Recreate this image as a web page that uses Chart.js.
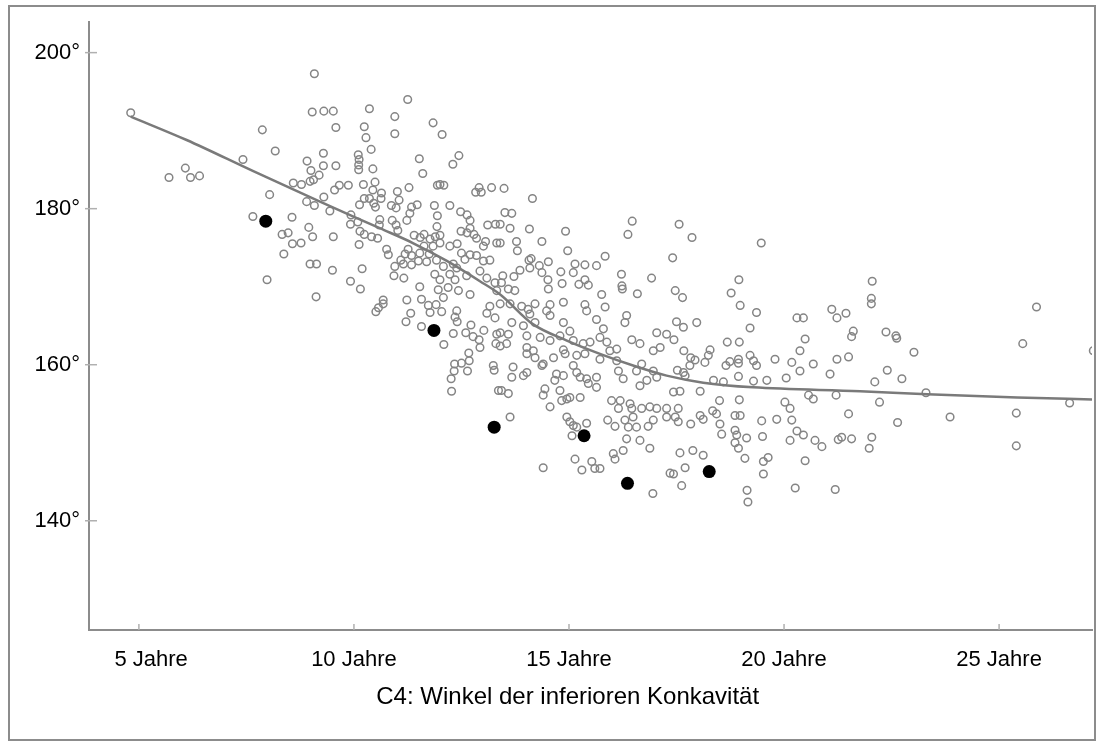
<!DOCTYPE html>
<html>
<head>
<meta charset="utf-8">
<script src="https://cdn.jsdelivr.net/npm/chart.js@4"></script>
<style>
  body { margin: 0; background: #fff; }
  .frame {
    position: absolute; left: 8px; top: 5px; width: 1088px; height: 736px;
    box-sizing: border-box; border: 2px solid #8c8c8c;
  }
  canvas { position: absolute; left: 0; top: 0; }
</style>
</head>
<body>
<div class="frame"></div>
<canvas id="angleChart" width="1102" height="742"></canvas>
<script>
// age (years) and C4 concavity angle (degrees) per subject
const openPoints = [
  [4.81,192.3],[9.08,197.3],[9.03,192.4],[9.30,192.5],[7.87,190.1],[8.17,187.4],[7.42,186.3],[6.08,185.2],[5.70,184.0],[6.20,184.0],
  [6.41,184.2],[9.29,187.1],[8.91,186.1],[9.00,184.9],[9.29,185.5],[9.19,184.3],[9.06,183.7],[8.98,183.5],[8.59,183.3],[8.78,183.1],
  [8.04,181.8],[8.90,180.9],[9.08,180.4],[9.30,181.5],[7.65,179.0],[8.56,178.9],[8.95,177.6],[9.04,176.4],[8.33,176.7],[8.47,176.9],
  [8.57,175.5],[8.77,175.6],[8.37,174.2],[8.98,172.9],[9.13,172.9],[7.98,170.9],[9.12,168.7],
  [11.25,194.0],[9.52,192.5],[10.36,192.8],[10.95,191.8],[11.84,191.0],[9.58,190.4],[10.24,190.5],[10.95,189.6],[12.05,189.5],[10.28,189.1],
  [10.40,187.6],[10.10,186.9],[10.12,186.3],[10.11,185.6],[10.11,185.0],[11.52,186.4],[12.44,186.8],[12.30,185.7],[9.58,185.5],[10.44,185.1],
  [11.60,184.5],[10.49,183.4],[10.22,183.1],[9.87,183.0],[9.66,183.0],[9.55,182.4],[11.94,183.0],[12.09,183.0],[12.00,183.1],[11.28,182.7],
  [11.01,182.2],[10.44,182.4],[10.64,182.0],[10.63,181.3],[12.91,182.7],[13.20,182.7],[12.83,182.1],[12.96,182.1],[10.24,181.3],[10.36,181.3],
  [10.46,180.7],[10.50,180.2],[10.13,180.5],[11.05,181.1],[10.87,180.4],[10.98,180.1],[11.34,180.2],[11.47,180.5],[11.30,179.4],[11.87,180.4],
  [12.23,180.4],[12.48,179.6],[12.63,179.2],[12.70,178.5],[9.44,179.7],[9.93,179.2],[9.92,178.0],[10.09,178.3],[10.89,178.5],[10.98,177.9],
  [11.02,177.2],[11.23,178.5],[10.60,178.6],[10.59,177.9],[11.94,179.1],[11.93,177.7],[13.11,177.9],[13.29,178.0],[9.52,176.4],[10.14,177.1],
  [10.24,176.7],[10.41,176.4],[10.55,176.2],[11.40,176.6],[11.54,176.3],[11.63,176.7],[11.77,176.1],[11.89,176.4],[12.00,176.6],[12.49,177.1],
  [12.63,176.9],[12.79,176.7],[12.85,176.2],[12.70,177.5],[13.06,175.8],[13.01,175.2],[13.32,175.6],[10.12,175.4],[10.76,174.8],[10.80,174.1],
  [11.26,174.8],[11.19,174.2],[11.34,174.0],[11.53,174.3],[11.75,174.2],[11.63,175.2],[11.84,175.2],[12.00,175.6],[12.23,175.2],[12.40,175.5],
  [12.50,174.3],[12.58,173.5],[12.70,174.1],[12.85,174.0],[13.01,173.3],[13.16,173.4],[11.09,173.4],[10.95,172.6],[11.15,172.9],[11.34,172.8],
  [11.50,173.3],[11.69,173.2],[11.92,173.4],[12.08,172.6],[12.31,172.9],[12.39,172.4],[10.19,172.3],[9.50,172.1],[10.93,171.4],[11.16,171.1],
  [11.88,171.6],[12.00,170.9],[12.23,171.6],[12.35,170.9],[12.62,171.4],[12.93,172.0],[13.09,171.1],[13.28,170.5],[9.92,170.7],[10.15,169.7],
  [11.53,170.0],[11.96,169.6],[12.19,169.9],[12.43,169.5],[12.70,169.0],[13.32,169.5],[10.68,168.3],[11.23,168.3],[11.57,168.4],[12.08,168.6],
  [10.57,167.3],[10.68,167.8],[10.51,166.8],[11.32,166.6],[11.21,165.5],[11.57,164.9],[11.73,167.6],[11.77,166.7],[11.91,167.7],[12.04,166.8],
  [12.39,166.9],[12.35,166.1],[12.40,165.5],[12.31,164.0],[12.09,162.6],[12.72,165.1],[12.60,164.1],[12.77,163.6],[12.91,163.2],[12.93,162.2],
  [13.02,164.4],[13.09,166.6],[13.16,167.5],[13.28,166.0],[13.32,163.9],[13.30,162.7],[12.67,161.5],[12.68,160.5],[12.50,160.2],[12.34,160.1],
  [12.33,159.2],[12.64,159.2],[12.26,158.2],[12.27,156.6],[13.24,159.9],[13.26,159.3],[13.36,156.7],
  [13.49,182.6],[14.15,181.3],[13.51,179.5],[13.67,179.4],[13.40,178.0],[13.63,177.5],[14.08,177.4],[14.92,177.1],[16.47,178.4],[16.37,176.7],
  [13.78,175.8],[13.80,174.6],[14.37,175.8],[13.40,175.6],[14.97,174.6],[14.12,173.6],[14.07,173.4],[15.84,173.9],[17.41,173.7],[14.52,173.2],
  [14.31,172.7],[14.09,172.4],[13.86,172.1],[15.14,172.9],[15.37,172.8],[15.64,172.7],[15.10,171.8],[14.81,171.9],[14.37,171.8],[14.51,170.9],
  [16.22,171.6],[13.46,171.4],[13.72,171.3],[13.59,169.7],[13.74,169.5],[13.43,170.5],[14.84,170.4],[15.23,170.3],[15.37,170.9],[15.45,170.2],
  [16.23,170.1],[16.24,169.7],[16.92,171.1],[14.52,169.7],[15.76,169.0],[16.59,169.1],
  [13.40,167.8],[13.63,167.8],[13.90,167.5],[14.21,167.8],[14.56,167.7],[14.87,168.0],[15.37,167.7],[15.41,166.9],[15.84,167.4],[16.34,166.3],
  [16.30,165.4],[14.05,167.1],[14.09,166.5],[14.56,166.3],[14.48,166.9],[14.87,165.4],[15.02,164.3],[15.64,165.8],[15.80,164.6],[13.67,165.4],
  [13.94,165.0],[14.21,165.4],[14.02,163.7],[14.33,163.5],[14.56,163.1],[14.79,163.7],[13.40,164.1],[13.59,163.9],[13.55,162.7],[13.40,162.4],
  [15.10,163.1],[15.33,162.7],[15.49,162.9],[15.72,163.5],[15.88,162.9],[15.95,161.8],[16.11,162.0],[16.46,163.2],[16.65,162.7],[17.04,164.1],
  [17.12,162.2],[16.96,161.8],[17.27,163.9],[14.02,162.2],[14.17,161.8],[14.21,160.9],[14.02,161.4],[14.87,161.9],[14.91,161.4],[14.64,160.9],
  [15.72,160.7],[15.18,161.2],[15.37,161.4],[16.11,160.5],[13.70,159.7],[13.67,158.4],[14.02,159.0],[13.94,158.6],[14.37,159.9],[14.40,160.1],
  [15.10,159.9],[15.18,159.0],[15.26,158.4],[15.41,158.2],[15.64,158.4],[14.71,158.8],[14.87,158.6],[14.67,158.0],[16.15,159.2],[16.26,158.2],
  [16.57,159.2],[16.69,160.1],[16.81,158.0],[16.65,157.3],[16.96,159.2],[17.04,158.4],[13.43,156.7],[13.59,156.3],[13.63,153.3],[14.44,156.9],
  [14.40,156.1],[14.79,156.7],[14.83,155.4],[14.95,155.6],[15.02,155.8],[15.26,155.8],[14.56,154.6],[15.64,157.1],[15.45,157.6],[15.99,155.4],
  [16.19,155.4],[16.15,154.4],[16.42,155.0],[16.46,154.4],[16.49,153.3],[16.69,154.4],[16.88,154.6],[17.04,154.4],[17.27,154.4],[17.27,153.3],
  [14.95,153.3],[15.02,152.7],[15.10,152.2],[15.18,152.0],[15.41,152.5],[15.07,150.9],[15.90,152.9],[16.07,152.1],[16.30,152.9],[16.38,152.0],
  [16.57,152.0],[16.84,152.1],[16.96,152.9],[16.34,150.5],[16.65,150.3],[16.88,149.3],[16.26,149.0],[16.03,148.6],[16.07,147.9],[14.40,146.8],
  [15.14,147.9],[15.30,146.5],[15.53,147.6],[15.60,146.7],[15.72,146.7],[16.95,143.5],[17.35,146.1],
  [17.56,178.0],[17.86,176.3],[19.47,175.6],[18.95,170.9],[18.77,169.2],[17.47,169.5],[17.64,168.6],
  [18.98,167.6],[19.36,166.7],[17.50,165.5],[17.66,164.8],[17.97,165.4],[19.21,164.7],[20.30,166.0],[20.45,166.0],[21.11,167.1],[21.23,166.0],
  [21.44,166.6],[21.61,164.3],[21.57,163.6],[17.44,163.2],[18.68,162.9],[18.96,162.9],[20.49,163.3],[20.37,161.8],[17.67,161.8],[17.83,160.9],
  [17.93,160.6],[17.81,159.9],[17.66,159.0],[17.52,159.3],[17.70,158.6],[18.28,161.9],[18.24,161.2],[18.16,160.3],[18.65,159.9],[18.74,160.4],
  [18.94,160.7],[18.94,160.2],[19.21,161.2],[19.29,160.5],[19.36,159.9],[19.79,160.7],[20.18,160.3],[20.37,159.2],[20.68,160.1],[21.23,160.7],
  [21.50,161.0],[21.07,158.8],[18.94,158.5],[19.29,157.9],[18.36,158.0],[18.59,157.8],[19.60,158.0],[20.05,158.3],[17.43,156.5],[17.58,156.6],
  [18.05,156.6],[18.50,155.4],[18.96,155.5],[20.57,156.1],[20.68,155.6],[21.21,156.1],[17.54,154.4],[17.47,153.3],[17.54,152.7],[18.05,153.5],
  [18.12,153.0],[17.83,152.4],[18.34,154.1],[18.43,153.7],[18.51,152.4],[18.55,151.1],[18.86,153.5],[18.98,153.5],[20.02,155.2],[20.14,154.4],
  [20.18,152.9],[19.83,153.0],[19.48,152.8],[21.50,153.7],[18.86,151.6],[18.90,151.0],[19.13,150.6],[18.86,150.0],[18.94,149.3],[19.50,150.8],
  [20.14,150.3],[20.30,151.5],[20.45,151.0],[20.72,150.3],[20.88,149.5],[21.26,150.4],[21.34,150.7],[21.57,150.5],[17.58,148.7],[17.88,149.0],
  [18.12,148.4],[19.09,148.0],[19.52,147.6],[19.63,148.1],[20.49,147.7],[17.43,146.0],[17.70,146.8],[19.52,146.0],[17.62,144.5],[19.14,143.9],
  [19.16,142.4],[20.26,144.2],[21.19,144.0],
  [22.05,170.7],[22.03,168.5],[22.03,167.8],[25.87,167.4],[22.37,164.2],[22.60,163.7],[22.62,163.4],[25.55,162.7],[27.19,161.8],[23.02,161.6],
  [22.40,159.3],[22.74,158.2],[22.11,157.8],[23.30,156.4],[22.22,155.2],[26.64,155.1],[23.86,153.3],[22.64,152.6],[25.40,153.8],[22.04,150.7],
  [21.98,149.3],[25.40,149.6]
];

// highlighted cases
const markedPoints = [[7.95,178.4],[11.86,164.4],[13.26,152.0],[15.35,150.9],[16.36,144.8],[18.26,146.3]];

// smoothed trend
const trendAges   = [4.81, 6.11, 7.66, 9.21, 10.60, 11.37, 12.16, 12.93, 13.40, 14.16, 14.95, 15.72, 16.49, 17.27, 18.12, 19.28, 21.77, 23.33, 25.42, 27.16];
const trendAngles = [191.8, 188.8, 184.8, 180.9, 177.5, 175.6, 173.3, 170.7, 169.0, 165.2, 163.1, 161.4, 159.9, 158.6, 157.7, 157.1, 156.6, 156.2, 155.8, 155.55];

const ageTicks = [5, 10, 15, 20, 25];
const angleTicks = [140, 160, 180, 200];
const axisTitle = 'C4: Winkel der inferioren Konkavität';

const axisColor = '#8c8c8c';
const fontFamily = 'Liberation Sans, Arial, sans-serif';
const labelFont = { family: fontFamily, size: 22 };

const toXY = (pts) => pts.map((p) => ({ x: p[0], y: p[1] }));

// short tick marks pointing into the plot, plus the x axis caption
const axisExtras = {
  id: 'axisExtras',
  afterDraw(chart) {
    const { ctx, chartArea, scales } = chart;
    ctx.save();
    ctx.strokeStyle = '#b0b0b0';
    ctx.lineWidth = 1.5;
    ageTicks.forEach((v) => {
      const px = scales.x.getPixelForValue(v);
      ctx.beginPath();
      ctx.moveTo(px, chartArea.bottom);
      ctx.lineTo(px, chartArea.bottom - 6);
      ctx.stroke();
    });
    angleTicks.forEach((v) => {
      const py = scales.y.getPixelForValue(v);
      ctx.beginPath();
      ctx.moveTo(chartArea.left - 4, py);
      ctx.lineTo(chartArea.left + 8, py);
      ctx.stroke();
    });

    // caption sits a little left of the plot centre
    ctx.fillStyle = '#000';
    ctx.font = '24px ' + fontFamily;
    ctx.textAlign = 'center';
    ctx.textBaseline = 'middle';
    ctx.fillText(axisTitle, scales.x.getPixelForValue(14.97), chartArea.bottom + 67);
    ctx.restore();
  },
};

new Chart(document.getElementById('angleChart'), {
  type: 'scatter',
  data: {
    datasets: [
      {
        type: 'line',
        data: trendAges.map((a, i) => ({ x: a, y: trendAngles[i] })),
        borderColor: '#7a7a7a',
        borderWidth: 2.5,
        pointRadius: 0,
        cubicInterpolationMode: 'monotone',
        fill: false,
      },
      {
        data: toXY(markedPoints),
        backgroundColor: '#000',
        borderColor: '#000',
        pointRadius: 6.5,
        borderWidth: 0,
      },
      {
        data: toXY(openPoints),
        backgroundColor: 'rgba(0,0,0,0)',
        borderColor: '#858585',
        pointRadius: 3.8,
        borderWidth: 1.5,
      },
    ],
  },
  options: {
    responsive: false,
    animation: false,
    layout: { padding: { top: 20, right: 10, left: 0, bottom: 0 } },
    plugins: {
      legend: { display: false },
      tooltip: { enabled: false },
    },
    scales: {
      x: {
        type: 'linear',
        min: 3.84,
        max: 27.16,
        afterBuildTicks: (scale) => { scale.ticks = ageTicks.map((v) => ({ value: v })); },
        afterFit: (scale) => { scale.height = 112; },
        grid: { display: false, drawTicks: false },
        border: { color: axisColor, width: 2 },
        ticks: {
          color: '#000',
          font: labelFont,
          padding: 17,
          maxRotation: 0,
          callback: (v) => (v === 5 ? '\u00a0\u00a0\u00a0\u00a0' : '') + v + ' Jahre',
        },
      },
      y: {
        min: 126,
        max: 203.9,
        afterBuildTicks: (scale) => { scale.ticks = angleTicks.map((v) => ({ value: v })); },
        afterFit: (scale) => { scale.width = 89; },
        grid: { display: false, drawTicks: false },
        border: { color: axisColor, width: 2 },
        ticks: {
          color: '#000',
          font: labelFont,
          padding: 9,
          callback: (v) => v + '°',
        },
      },
    },
  },
  plugins: [axisExtras],
});
</script>
</body>
</html>
